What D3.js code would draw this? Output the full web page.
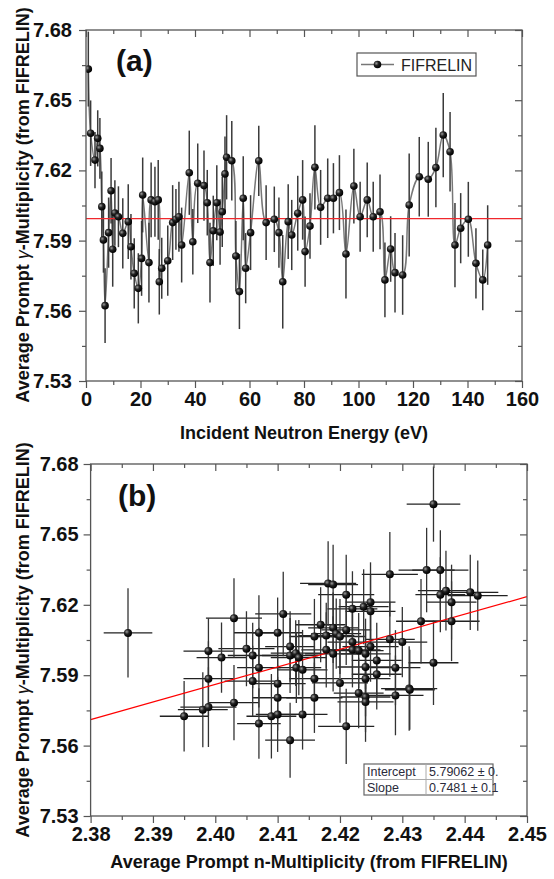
<!DOCTYPE html>
<html>
<head>
<meta charset="utf-8">
<script src="https://cdn.jsdelivr.net/npm/d3@7"></script>
<style>
  body { margin: 0; background: #fff; }
  svg { display: block; font-family: "Liberation Sans", Arial, sans-serif; }
</style>
</head>
<body>
<div id="chart"></div>
<script>
// (a) gamma multiplicity vs incident neutron energy
const energyA = [0.85, 1.7, 3.3, 4.3, 5.1, 5.8, 6.4, 7.0, 8.3, 9.2,
    9.8, 10.6, 11.9, 13.5, 15.5, 16.5, 17.7, 19.2, 20.4, 20.8,
    23.1, 23.9, 25.3, 26.5, 26.9, 27.8, 30.0, 31.8, 33.0, 34.1,
    35.1, 37.9, 39.2, 41.0, 43.3, 44.5, 45.5, 46.7, 48.0, 49.2,
    50.0, 51.0, 51.6, 53.5, 55.0, 56.3, 57.7, 58.6, 60.4, 63.4,
    66.1, 69.1, 70.8, 72.2, 74.2, 75.5, 77.7, 79.5, 80.4, 82.2,
    84.0, 86.1, 88.7, 90.8, 93.0, 95.4, 98.3, 100.6, 103.2, 105.4,
    107.9, 109.7, 111.8, 113.4, 116.2, 118.6, 122.3, 125.6, 128.4, 131.1,
    133.6, 135.4, 137.5, 140.3, 143.1, 145.6, 147.4];
const gammaA = [7.6633, 7.6359, 7.6244, 7.6337, 7.6294, 7.6045, 7.5903, 7.5622, 7.5934, 7.6113,
    7.5863, 7.6018, 7.6002, 7.5931, 7.5981, 7.5874, 7.5760, 7.5696, 7.5824, 7.6095,
    7.5806, 7.6074, 7.6066, 7.6074, 7.5724, 7.5782, 7.5814, 7.5977, 7.5991, 7.6002,
    7.5881, 7.6190, 7.5895, 7.6145, 7.6135, 7.6062, 7.5806, 7.5942, 7.6062, 7.5937,
    7.6023, 7.6185, 7.6256, 7.6241, 7.5834, 7.5682, 7.6081, 7.5782, 7.5934, 7.6241,
    7.5977, 7.5991, 7.5934, 7.5724, 7.5981, 7.5924, 7.6017, 7.6074, 7.5853, 7.5962,
    7.6213, 7.6042, 7.6081, 7.6081, 7.6105, 7.5843, 7.6133, 7.6002, 7.6074, 7.6002,
    7.6023, 7.5732, 7.5864, 7.5763, 7.5753, 7.6052, 7.6173, 7.6162, 7.6212, 7.6351,
    7.6280, 7.5881, 7.5953, 7.5991, 7.5803, 7.5732, 7.5881];
const gammaErrA = [0.016, 0.014, 0.012, 0.012, 0.013, 0.015, 0.014, 0.016, 0.015, 0.014,
    0.016, 0.014, 0.013, 0.015, 0.016, 0.014, 0.015, 0.015, 0.016, 0.016,
    0.017, 0.016, 0.015, 0.017, 0.014, 0.013, 0.015, 0.016, 0.013, 0.015,
    0.016, 0.018, 0.014, 0.017, 0.015, 0.014, 0.017, 0.015, 0.016, 0.014,
    0.015, 0.016, 0.018, 0.017, 0.015, 0.016, 0.018, 0.015, 0.016, 0.015,
    0.016, 0.014, 0.015, 0.020, 0.016, 0.015, 0.016, 0.017, 0.015, 0.014,
    0.018, 0.016, 0.017, 0.015, 0.016, 0.019, 0.016, 0.015, 0.016, 0.015,
    0.016, 0.016, 0.014, 0.017, 0.017, 0.022, 0.017, 0.016, 0.017, 0.018,
    0.017, 0.018, 0.015, 0.016, 0.015, 0.013, 0.017];
const meanGamma = 7.5994;
const legendLabel = "FIFRELIN";

// (b) gamma multiplicity vs neutron multiplicity
const nMultB = [2.3860, 2.3950, 2.3980, 2.3989, 2.3989, 2.3989, 2.4010, 2.4030, 2.4030, 2.4050,
    2.4060, 2.4060, 2.4070, 2.4070, 2.4070, 2.4090, 2.4100, 2.4100, 2.4100, 2.4100,
    2.4109, 2.4120, 2.4120, 2.4120, 2.4129, 2.4130, 2.4134, 2.4140, 2.4140, 2.4159,
    2.4159, 2.4159, 2.4169, 2.4178, 2.4178, 2.4181, 2.4189, 2.4189, 2.4189, 2.4194,
    2.4200, 2.4200, 2.4210, 2.4210, 2.4210, 2.4220, 2.4220, 2.4220, 2.4230, 2.4230,
    2.4238, 2.4241, 2.4241, 2.4241, 2.4241, 2.4241, 2.4249, 2.4249, 2.4249, 2.4259,
    2.4259, 2.4280, 2.4280, 2.4289, 2.4289, 2.4300, 2.4311, 2.4312, 2.4330, 2.4339,
    2.4350, 2.4350, 2.4361, 2.4361, 2.4370, 2.4379, 2.4379, 2.4409, 2.4421];
const gammaB = [7.6080, 7.5725, 7.5753, 7.5764, 7.5885, 7.6003, 7.5975, 7.6143, 7.5783, 7.6013,
    7.5984, 7.5875, 7.6081, 7.5932, 7.5694, 7.5725, 7.6081, 7.5864, 7.5804, 7.5733,
    7.6161, 7.5623, 7.6022, 7.5984, 7.5994, 7.5932, 7.5975, 7.5923, 7.5733, 7.6065,
    7.5885, 7.5804, 7.6115, 7.6069, 7.6008, 7.6291, 7.6286, 7.6102, 7.5991, 7.6077,
    7.6065, 7.5867, 7.6243, 7.6093, 7.5682, 7.6183, 7.6041, 7.6008, 7.6005, 7.5824,
    7.6192, 7.5991, 7.5935, 7.5885, 7.5807, 7.5786, 7.6211, 7.6172, 7.6022, 7.5963,
    7.5904, 7.6330, 7.6053, 7.5932, 7.5814, 7.6041, 7.5843, 7.5838, 7.6130, 7.6348,
    7.6629, 7.5953, 7.6348, 7.6243, 7.6260, 7.6211, 7.6130, 7.6253, 7.6239];
const nErrB = [0.0039, 0.0039, 0.0040, 0.0045, 0.0040, 0.0040, 0.0040, 0.0045, 0.0040, 0.0045,
    0.0040, 0.0045, 0.0040, 0.0035, 0.0035, 0.0040, 0.0040, 0.0045, 0.0040, 0.0035,
    0.0045, 0.0040, 0.0040, 0.0045, 0.0040, 0.0040, 0.0045, 0.0040, 0.0040, 0.0040,
    0.0040, 0.0045, 0.0040, 0.0045, 0.0040, 0.0045, 0.0040, 0.0040, 0.0045, 0.0040,
    0.0040, 0.0045, 0.0045, 0.0040, 0.0045, 0.0040, 0.0040, 0.0045, 0.0040, 0.0040,
    0.0040, 0.0040, 0.0045, 0.0040, 0.0040, 0.0045, 0.0040, 0.0040, 0.0045, 0.0040,
    0.0040, 0.0045, 0.0040, 0.0040, 0.0045, 0.0040, 0.0045, 0.0040, 0.0040, 0.0045,
    0.0043, 0.0040, 0.0045, 0.0040, 0.0045, 0.0040, 0.0045, 0.0045, 0.0048];
const gammaErrB = [0.019, 0.015, 0.016, 0.017, 0.016, 0.014, 0.015, 0.017, 0.016, 0.016,
    0.014, 0.015, 0.016, 0.017, 0.015, 0.018, 0.015, 0.016, 0.014, 0.016,
    0.018, 0.016, 0.015, 0.016, 0.014, 0.015, 0.016, 0.017, 0.015, 0.016,
    0.017, 0.015, 0.016, 0.014, 0.016, 0.018, 0.017, 0.015, 0.016, 0.015,
    0.016, 0.017, 0.017, 0.015, 0.016, 0.016, 0.015, 0.016, 0.016, 0.015,
    0.016, 0.015, 0.016, 0.016, 0.015, 0.017, 0.017, 0.016, 0.015, 0.016,
    0.015, 0.018, 0.016, 0.016, 0.017, 0.015, 0.018, 0.017, 0.018, 0.018,
    0.016, 0.018, 0.017, 0.016, 0.017, 0.016, 0.017, 0.016, 0.015];
const fitIntercept = 5.79062;
const fitSlope = 0.7481;
const fitRows = [["Intercept", "5.79062 ± 0."], ["Slope", "0.7481 ± 0.1"]];

// ticks
const yTicks = [7.53, 7.56, 7.59, 7.62, 7.65, 7.68];
const yMinor = [7.545, 7.575, 7.605, 7.635, 7.665];
const xTicksA = [0, 20, 40, 60, 80, 100, 120, 140, 160];
const xMinorA = [10, 30, 50, 70, 90, 110, 130, 150];
const xTicksB = [2.38, 2.39, 2.40, 2.41, 2.42, 2.43, 2.44, 2.45];
const xMinorB = [2.385, 2.395, 2.405, 2.415, 2.425, 2.435, 2.445];

const width = 554;
const height = 879;

const svg = d3.select("#chart").append("svg")
    .attr("width", width)
    .attr("height", height);

const defs = svg.append("defs");
const ball = defs.append("radialGradient").attr("id", "ball")
    .attr("cx", "35%").attr("cy", "35%").attr("r", "65%");
ball.append("stop").attr("offset", "0%").attr("stop-color", "#9a9a9a");
ball.append("stop").attr("offset", "45%").attr("stop-color", "#222");
ball.append("stop").attr("offset", "100%").attr("stop-color", "#000");

const xA = d3.scaleLinear([0, 160], [86, 522]);
const yA = d3.scaleLinear([7.53, 7.68], [381, 30]);
const xB = d3.scaleLinear([2.38, 2.45], [90.6, 527]);
const yB = d3.scaleLinear([7.53, 7.68], [816, 464]);

function clip(id, x, y) {
    const [x0, x1] = x.range(), [y0, y1] = y.range();
    defs.append("clipPath").attr("id", id).append("rect")
        .attr("x", x0).attr("y", y1).attr("width", x1 - x0).attr("height", y0 - y1);
}
clip("clipA", xA, yA);
clip("clipB", xB, yB);

function drawAxes(g, x, y, t) {
    const [x0, x1] = x.range(), [y0, y1] = y.range();

    // bottom / left: ticks out, labelled
    g.append("g").attr("class", "axis lab").attr("transform", `translate(0,${y0})`)
        .call(d3.axisBottom(x).tickValues(t.x).tickFormat(t.fx).tickSize(7).tickPadding(4));
    g.append("g").attr("class", "axis").attr("transform", `translate(0,${y0})`)
        .call(d3.axisBottom(x).tickValues(t.xm).tickFormat("").tickSize(4));
    g.append("g").attr("class", "axis lab").attr("transform", `translate(${x0},0)`)
        .call(d3.axisLeft(y).tickValues(yTicks).tickFormat(d3.format(".2f")).tickSize(7).tickPadding(t.pad));
    g.append("g").attr("class", "axis").attr("transform", `translate(${x0},0)`)
        .call(d3.axisLeft(y).tickValues(yMinor).tickFormat("").tickSize(4));

    // top / right: ticks in
    g.append("g").attr("class", "axis").attr("transform", `translate(0,${y1})`)
        .call(d3.axisTop(x).tickValues(t.x).tickFormat("").tickSize(-7));
    g.append("g").attr("class", "axis").attr("transform", `translate(0,${y1})`)
        .call(d3.axisTop(x).tickValues(t.xm).tickFormat("").tickSize(-4));
    g.append("g").attr("class", "axis").attr("transform", `translate(${x1},0)`)
        .call(d3.axisRight(y).tickValues(yTicks).tickFormat("").tickSize(-7));
    g.append("g").attr("class", "axis").attr("transform", `translate(${x1},0)`)
        .call(d3.axisRight(y).tickValues(yMinor).tickFormat("").tickSize(-4));

    g.selectAll(".axis .domain").remove();
    g.selectAll(".axis line").attr("stroke", "#555").attr("stroke-width", 1.2);
    g.selectAll(".lab text")
        .style("font-family", '"Liberation Sans", Arial, sans-serif')
        .style("font-size", "20px")
        .style("font-weight", "bold")
        .attr("fill", "#111");

    g.append("rect")
        .attr("x", x0).attr("y", y1)
        .attr("width", x1 - x0).attr("height", y0 - y1)
        .attr("fill", "none")
        .attr("stroke", "#555")
        .attr("stroke-width", 1.3);
}

function yLabel(g, cx, cy) {
    const t = g.append("text")
        .attr("transform", `translate(${cx},${cy}) rotate(-90)`)
        .attr("text-anchor", "middle")
        .attr("font-size", 18)
        .attr("font-weight", "bold")
        .attr("fill", "#111");
    t.append("tspan").text("Average Prompt ");
    t.append("tspan").attr("font-style", "italic").attr("font-weight", "normal").text("γ");
    t.append("tspan").text("-Multiplicity (from FIFRELIN)");
}

// ---------- panel (a) ----------
const gA = svg.append("g");
const ptsA = energyA.map((e, i) => ({ x: e, y: gammaA[i], ey: gammaErrA[i] }));
const plotA = gA.append("g").attr("clip-path", "url(#clipA)");

plotA.append("path")
    .datum(ptsA)
    .attr("fill", "none")
    .attr("stroke", "#777")
    .attr("stroke-width", 1.5)
    .attr("d", d3.line().x(d => xA(d.x)).y(d => yA(d.y)).curve(d3.curveCatmullRom.alpha(0.5)));

plotA.selectAll(".err")
    .data(ptsA)
    .join("line")
    .attr("class", "err")
    .attr("x1", d => xA(d.x)).attr("x2", d => xA(d.x))
    .attr("y1", d => yA(d.y - d.ey)).attr("y2", d => yA(d.y + d.ey))
    .attr("stroke", "#3a3a3a")
    .attr("stroke-width", 1.5);

plotA.append("line")
    .attr("x1", xA(0)).attr("x2", xA(160))
    .attr("y1", yA(meanGamma)).attr("y2", yA(meanGamma))
    .attr("stroke", "#f0282d")
    .attr("stroke-width", 1.4);

plotA.selectAll(".pt")
    .data(ptsA)
    .join("circle")
    .attr("class", "pt")
    .attr("cx", d => xA(d.x)).attr("cy", d => yA(d.y))
    .attr("r", 3.8)
    .attr("fill", "url(#ball)");

drawAxes(gA, xA, yA, { x: xTicksA, xm: xMinorA, fx: d3.format("d"), pad: 7 });
yLabel(gA, 29, 205);

gA.append("text")
    .attr("x", xA(80)).attr("y", 439)
    .attr("text-anchor", "middle")
    .attr("font-size", 18)
    .attr("font-weight", "bold")
    .attr("fill", "#111")
    .text("Incident Neutron Energy (eV)");

gA.append("text")
    .attr("x", 116).attr("y", 71)
    .attr("font-size", 30)
    .attr("font-weight", "bold")
    .attr("fill", "#111")
    .text("(a)");

// legend
const leg = gA.append("g").attr("transform", "translate(357,53)");
leg.append("rect")
    .attr("width", 119).attr("height", 23)
    .attr("fill", "#fff")
    .attr("stroke", "#555")
    .attr("stroke-width", 1.2);
leg.append("line")
    .attr("x1", 4).attr("x2", 37).attr("y1", 11.5).attr("y2", 11.5)
    .attr("stroke", "#777").attr("stroke-width", 1.5);
leg.append("circle")
    .attr("cx", 20.5).attr("cy", 11.5).attr("r", 3.8)
    .attr("fill", "url(#ball)");
leg.append("text")
    .attr("x", 44).attr("y", 17.5)
    .attr("font-size", 16)
    .attr("fill", "#222")
    .text(legendLabel);

// ---------- panel (b) ----------
const gB = svg.append("g");
const ptsB = nMultB.map((n, i) => ({ x: n, y: gammaB[i], ex: nErrB[i], ey: gammaErrB[i] }));
const plotB = gB.append("g").attr("clip-path", "url(#clipB)");

plotB.selectAll(".errx")
    .data(ptsB)
    .join("line")
    .attr("class", "errx")
    .attr("x1", d => xB(d.x - d.ex)).attr("x2", d => xB(d.x + d.ex))
    .attr("y1", d => yB(d.y)).attr("y2", d => yB(d.y))
    .attr("stroke", "#222")
    .attr("stroke-width", 1.3);

plotB.selectAll(".erry")
    .data(ptsB)
    .join("line")
    .attr("class", "erry")
    .attr("x1", d => xB(d.x)).attr("x2", d => xB(d.x))
    .attr("y1", d => yB(d.y - d.ey)).attr("y2", d => yB(d.y + d.ey))
    .attr("stroke", "#333")
    .attr("stroke-width", 1.3);

plotB.append("line")
    .attr("x1", xB(2.38)).attr("x2", xB(2.45))
    .attr("y1", yB(fitIntercept + fitSlope * 2.38))
    .attr("y2", yB(fitIntercept + fitSlope * 2.45))
    .attr("stroke", "#f00")
    .attr("stroke-width", 1.2);

plotB.selectAll(".pt")
    .data(ptsB)
    .join("circle")
    .attr("class", "pt")
    .attr("cx", d => xB(d.x)).attr("cy", d => yB(d.y))
    .attr("r", 4)
    .attr("fill", "url(#ball)");

drawAxes(gB, xB, yB, { x: xTicksB, xm: xMinorB, fx: d3.format(".2f"), pad: 5 });
yLabel(gB, 29, 640);

gB.append("text")
    .attr("x", 309).attr("y", 868)
    .attr("text-anchor", "middle")
    .attr("font-size", 18)
    .attr("font-weight", "bold")
    .attr("fill", "#111")
    .text("Average Prompt n-Multiplicity (from FIFRELIN)");

gB.append("text")
    .attr("x", 118).attr("y", 506)
    .attr("font-size", 30)
    .attr("font-weight", "bold")
    .attr("fill", "#111")
    .text("(b)");

// fit parameter table
const tab = gB.append("g").attr("transform", "translate(364,764)");
tab.append("rect")
    .attr("width", 129).attr("height", 31)
    .attr("fill", "#fff")
    .attr("stroke", "#666")
    .attr("stroke-width", 1.2);
tab.append("line").attr("x1", 0).attr("x2", 129).attr("y1", 15.5).attr("y2", 15.5)
    .attr("stroke", "#aaa");
tab.append("line").attr("x1", 62).attr("x2", 62).attr("y1", 0).attr("y2", 31)
    .attr("stroke", "#aaa");
tab.selectAll(".row")
    .data(fitRows)
    .join("g")
    .attr("class", "row")
    .attr("transform", (d, i) => `translate(0,${12 + i * 15.5})`)
    .each(function (d) {
        const r = d3.select(this);
        r.append("text").attr("x", 3).text(d[0]);
        r.append("text").attr("x", 65).text(d[1]);
    })
    .selectAll("text")
    .attr("font-size", 12.5)
    .attr("fill", "#2a2a3a");
</script>
</body>
</html>
